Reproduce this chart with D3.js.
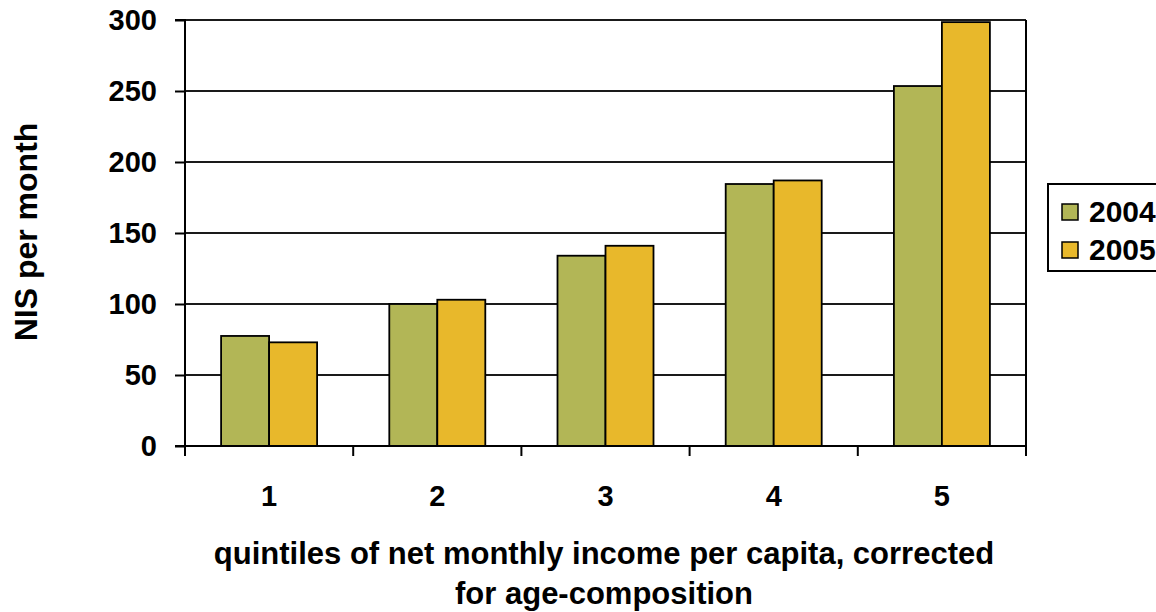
<!DOCTYPE html>
<html><head><meta charset="utf-8">
<script src="https://cdn.jsdelivr.net/npm/d3@7"></script>
<style>
html,body{margin:0;padding:0;background:#fff;}
svg{display:block;font-family:"Liberation Sans",Arial,sans-serif;font-weight:bold;}
</style></head>
<body>
<svg id="c" width="1156" height="612"></svg>
<script>
const categories = ["1","2","3","4","5"];
const seriesNames = ["2004","2005"];
const values2004 = [77.5, 100, 134, 184.5, 253.5];
const values2005 = [73, 103, 141, 187, 298.5];
const yTicks = [0,50,100,150,200,250,300];
const colors = ["#B2B656","#E8B82B"];

const svg = d3.select("#c");
const L=185, R=1026, T=20, B=446;
const x = d3.scaleBand().domain(categories).range([L,R]).paddingInner(0).paddingOuter(0);
const y = d3.scaleLinear().domain([0,300]).range([B,T]);
const barW = 48;
const data = [values2004, values2005];

// gridlines
svg.append("g").selectAll("line").data(yTicks.filter(d=>d>0)).join("line")
  .attr("x1",L).attr("x2",R).attr("y1",d=>y(d)).attr("y2",d=>y(d))
  .attr("stroke","#1a1a1a").attr("stroke-width",2);
// right border
svg.append("line").attr("x1",R).attr("x2",R).attr("y1",T).attr("y2",B).attr("stroke","#000").attr("stroke-width",2);

// bars
categories.forEach((c,i)=>{
  data.forEach((vals,s)=>{
    const cx = x(c)+x.bandwidth()/2;
    svg.append("rect")
      .attr("x", cx - barW + s*barW).attr("width", barW)
      .attr("y", y(vals[i])).attr("height", B - y(vals[i]))
      .attr("fill", colors[s]).attr("stroke","#000").attr("stroke-width",1.8);
  });
});

const FONT = "Liberation Sans, Arial, sans-serif";
// y axis
const ya = svg.append("g").attr("transform",`translate(${L},0)`)
  .call(d3.axisLeft(y).tickValues(yTicks).tickSize(10).tickPadding(18).tickFormat(d3.format("d")));
ya.select(".domain").attr("stroke","#000").attr("stroke-width",2).attr("d",`M-10,${T}H0V${B}H-10`);
ya.selectAll(".tick line").attr("stroke","#000").attr("stroke-width",2);
ya.selectAll(".tick text").attr("fill","#000").style("font-size","29px").style("font-family",FONT).style("font-weight","bold");

// x axis
const xa = svg.append("g").attr("transform",`translate(0,${B})`)
  .call(d3.axisBottom(x).tickSize(0).tickPadding(39));
xa.select(".domain").attr("stroke","#000").attr("stroke-width",2).attr("d",`M${L},0H${R}`);
xa.selectAll(".tick text").attr("fill","#000").style("font-size","29px").style("font-family",FONT).style("font-weight","bold");
// boundary ticks
const bounds = categories.map(c=>x(c)).concat([R]);
svg.append("g").selectAll("line").data(bounds).join("line")
  .attr("x1",d=>d).attr("x2",d=>d).attr("y1",B).attr("y2",B+10)
  .attr("stroke","#000").attr("stroke-width",2);

// axis titles
svg.append("text").attr("transform","translate(37,232) rotate(-90)")
  .attr("text-anchor","middle").style("font-size","32px").attr("fill","#000")
  .text("NIS per month");
svg.append("text").attr("x",604).attr("y",564).attr("text-anchor","middle").style("font-size","31px").attr("fill","#000")
  .text("quintiles of net monthly income per capita, corrected");
svg.append("text").attr("x",604).attr("y",604).attr("text-anchor","middle").style("font-size","31px").attr("fill","#000")
  .text("for age-composition");

// legend
const lg = svg.append("g");
lg.append("rect").attr("x",1048).attr("y",184).attr("width",130).attr("height",87)
  .attr("fill","#fff").attr("stroke","#000").attr("stroke-width",2);
seriesNames.forEach((n,i)=>{
  const cy = 212 + i*38;
  lg.append("rect").attr("x",1062).attr("y",cy-8).attr("width",16).attr("height",16)
    .attr("fill",colors[i]).attr("stroke","#000").attr("stroke-width",1.5);
  lg.append("text").attr("x",1089).attr("y",cy+10).style("font-size","30px").attr("fill","#000").text(n);
});
</script>
</body></html>
